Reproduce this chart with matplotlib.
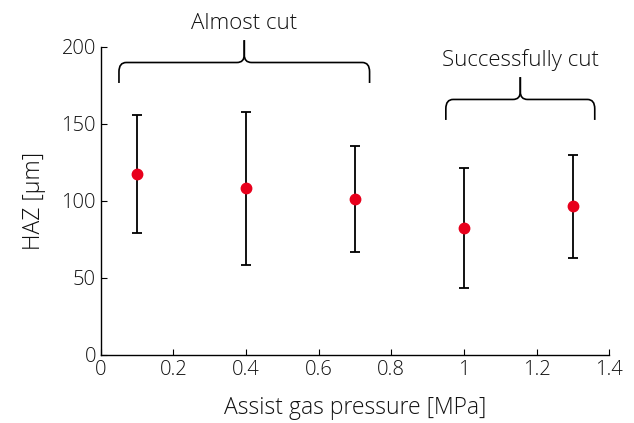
import numpy as np
import matplotlib
matplotlib.use("Agg")
import matplotlib.pyplot as plt
from matplotlib.path import Path
from matplotlib.patches import PathPatch

plt.rcParams.update({
    "font.family": ["Open Sans", "DejaVu Sans"],
    "font.weight": "light",
    "axes.labelweight": "light",
    "font.size": 14.5,
    "axes.labelsize": 16.5,
    "xtick.direction": "in",
    "ytick.direction": "in",
    "xtick.major.size": 4.5,
    "ytick.major.size": 4.5,
    "axes.linewidth": 1.0,
    "text.color": "#111111",
    "axes.labelcolor": "#111111",
    "xtick.labelcolor": "#111111",
    "ytick.labelcolor": "#111111",
})

pressure = [0.1, 0.4, 0.7, 1.0, 1.3]
haz_mean = [117.5, 108.4, 101.3, 82.5, 96.8]
haz_low = [79.2, 58.4, 66.9, 43.5, 63.0]
haz_high = [155.8, 157.8, 135.7, 121.4, 129.9]

groups = ["Almost cut", "Successfully cut"]
group_span = [(0.05, 0.74), (0.95, 1.36)]
group_y = [176.6, 152.6]

mean = np.array(haz_mean)
yerr = [mean - np.array(haz_low), np.array(haz_high) - mean]

fig = plt.figure(figsize=(6.34, 4.23), dpi=100)
ax = fig.add_axes([0.159, 0.161, 0.802, 0.728])

ax.errorbar(pressure, mean, yerr=yerr, fmt="none", ecolor="black",
            elinewidth=1.3, capsize=3.5, capthick=1.3, zorder=2)
ax.plot(pressure, mean, "o", color="#e8001c", markersize=7.5, zorder=3)


def brace_half(x_end, xc, yb, a, b):
    # one half of a curly brace, from the foot at x_end to the tip at xc
    ym = yb + a
    yt = yb + b
    s = 1 if xc > x_end else -1
    dx = 0.02
    verts = [(x_end, yb), (x_end, ym - 6), (x_end, ym), (x_end + s * dx, ym),
             (xc - s * dx, ym), (xc, ym), (xc, ym + 5), (xc, yt)]
    codes = [Path.MOVETO, Path.LINETO, Path.CURVE3, Path.CURVE3,
             Path.LINETO, Path.CURVE3, Path.CURVE3, Path.LINETO]
    return Path(verts, codes)


for label, (x0, x1), yb in zip(groups, group_span, group_y):
    xc = (x0 + x1) / 2
    for xe in (x0, x1):
        ax.add_patch(PathPatch(brace_half(xe, xc, yb, 13.3, 27.8), fill=False,
                               lw=1.2, color="black", clip_on=False,
                               capstyle="butt", joinstyle="round"))
    ax.text(xc, yb + 27.8 + 7, label, ha="center", va="baseline",
            fontsize=16, clip_on=False)

ax.set_xlim(0, 1.4)
ax.set_ylim(0, 200)
ax.set_xticks([0, 0.2, 0.4, 0.6, 0.8, 1.0, 1.2, 1.4])
ax.set_xticklabels(["0", "0.2", "0.4", "0.6", "0.8", "1", "1.2", "1.4"])
ax.set_yticks([0, 50, 100, 150, 200])
ax.spines["top"].set_visible(False)
ax.spines["right"].set_visible(False)
ax.set_xlabel("Assist gas pressure [MPa]", labelpad=12)
ax.set_ylabel("HAZ [µm]", labelpad=11)

fig.savefig("out.png", dpi=100)
